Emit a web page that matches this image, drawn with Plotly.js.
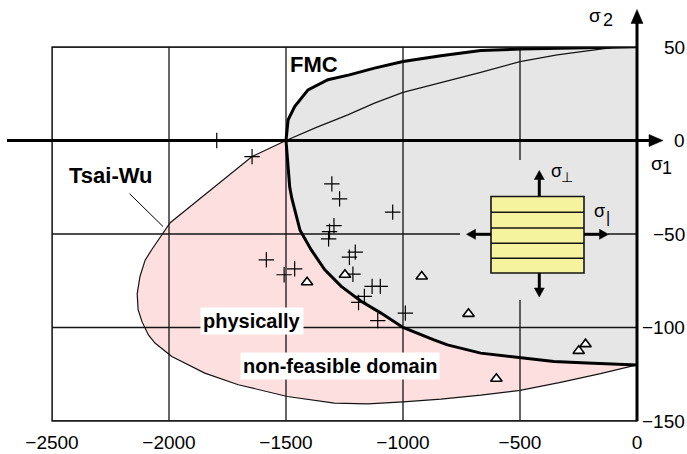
<!DOCTYPE html>
<html>
<head>
<meta charset="utf-8">
<script src="https://cdn.plot.ly/plotly-3.0.1.min.js"></script>
<style>html,body{margin:0;padding:0;background:#fff}#chart{width:687px;height:454px}</style>
</head>
<body>
<div id="chart"></div>
<script>
// ---- data ----
var xTicks = [-2500, -2000, -1500, -1000, -500, 0];
var yTicks = [-150, -100, -50, 0, 50];

// Tsai-Wu failure envelope (closed curve)
var tsaiWuX = [0, -101, -156, -341, -500, -668, -838, -1000, -1122, -1236, -1370, -1500, -1645, -1804, -1995, -2074, -2102, -2124, -2136, -2132, -2115, -2088, -2060, -1988, -1847, -1704, -1494, -1293, -1150, -1000, -838, -668, -500, -327, -156, 0];
var tsaiWuY = [51.5, 49.6, 48.9, 45.8, 42.2, 36.4, 31.0, 25.7, 20.0, 13.7, 7.0, 0, -8.6, -24.6, -44.0, -58.4, -64.0, -72.7, -82.0, -90.5, -97.0, -104.0, -108.3, -115.5, -124.4, -130.6, -136.9, -140.4, -140.8, -139.8, -138.3, -136.2, -133.6, -129.3, -124.7, -120];

// FMC failure envelope
var fmcUpperX = [-1500, -1496, -1491, -1463, -1406, -1321, -1229, -1122, -1000, -838, -668, -497, -270, -101, 0];
var fmcUpperY = [0, 6, 11, 18.2, 27.1, 32.5, 35.1, 38.7, 42.2, 45.3, 48.1, 48.9, 49.4, 49.8, 50.2];
var fmcLowerX = [-1500, -1494, -1490, -1484, -1475, -1463, -1440, -1392, -1335, -1264, -1179, -1094, -1000, -868, -810, -668, -500, -355, -213, 0];
var fmcLowerY = [0, -8, -16, -25, -31, -37, -48, -58.5, -69, -78, -86, -92.3, -100, -106.6, -109.3, -113.7, -116, -118.2, -119, -120];

// test data
var plusX = [-1796, -1645, -1304, -1271, -1044, -1295, -1314, -1318, -1204, -1229, -1584, -1463, -1508, -1214, -1132, -1097, -1165, -1190, -990, -1108];
var plusY = [0, -8.6, -23.2, -31.2, -38.3, -45.5, -48.7, -52.6, -59.7, -62.4, -63.8, -68.6, -71.8, -71.5, -78, -78, -83.4, -86.6, -92.3, -96.3];
var triX = [-1410, -1248, -920, -720, -220, -249, -601];
var triY = [-75.8, -71.8, -72.7, -92.7, -108.9, -112.5, -127.4];

// ---- build ----
var FONT = 'Liberation Sans, Arial, sans-serif';
var pink = '#fddfdf', grey = '#e6e6e6', yellow = '#f5f39d', ink = '#141414';

var fmcX = fmcUpperX.concat(fmcLowerX.slice().reverse());
var fmcY = fmcUpperY.concat(fmcLowerY.slice().reverse());

var gx = [], gy = [];
var xmin = xTicks[0], xmax = xTicks[xTicks.length - 1];
var ymin = yTicks[0], ymax = yTicks[yTicks.length - 1];
xTicks.forEach(function (v) { if (v !== 0) { gx.push(v, v, null); gy.push(ymin, ymax, null); } });
yTicks.forEach(function (v) { if (v !== 0) { gx.push(xmin, xmax, null); gy.push(v, v, null); } });

var traces = [
  {x: tsaiWuX, y: tsaiWuY, mode: 'lines', fill: 'toself', fillcolor: pink, line: {width: 0}, hoverinfo: 'skip'},
  {x: fmcX, y: fmcY, mode: 'lines', fill: 'toself', fillcolor: grey, line: {width: 0}, hoverinfo: 'skip'},
  {x: gx, y: gy, mode: 'lines', line: {color: ink, width: 1.3}, hoverinfo: 'skip'},
  {x: tsaiWuX, y: tsaiWuY, mode: 'lines', line: {color: ink, width: 1.2}},
  {x: fmcUpperX, y: fmcUpperY, mode: 'lines', line: {color: '#000', width: 3}},
  {x: fmcLowerX, y: fmcLowerY, mode: 'lines', line: {color: '#000', width: 3}},
  {x: plusX, y: plusY, mode: 'markers', marker: {symbol: 'cross-thin', size: 11, line: {color: '#000', width: 1.2}}},
  {x: triX, y: triY, mode: 'markers', marker: {symbol: 'triangle-up', size: 10, color: '#fff', line: {color: '#000', width: 1.6}}}
];

// paper helpers (plot area 52..637 x 47..421 px)
function px(p) { return (p - 52) / 585; }
function py(p) { return (421 - p) / 374; }

var shapes = [
  {type: 'rect', xref: 'paper', yref: 'paper', x0: px(460), x1: px(608), y0: py(300), y1: py(160), fillcolor: grey, line: {width: 0}, layer: 'above'},
  {type: 'rect', xref: 'paper', yref: 'paper', x0: 0, x1: 1, y0: 0, y1: 1, line: {color: ink, width: 1.3}, layer: 'above'},
  {type: 'rect', xref: 'paper', yref: 'paper', x0: px(491), x1: px(584), y0: py(273), y1: py(196.5), fillcolor: yellow, line: {color: ink, width: 1.6}, layer: 'above'}
];
[212.3, 228, 243.3, 258.3].forEach(function (p) {
  shapes.push({type: 'line', xref: 'paper', yref: 'paper', x0: px(491), x1: px(584), y0: py(p), y1: py(p), line: {color: ink, width: 1.4}, layer: 'above'});
});

// arrow = shaft line + filled triangular head (pixel geometry converted to paper)
function addArrow(tx0, ty0, tx1, ty1, w, hl, hw) {
  var dx = tx1 - tx0, dy = ty1 - ty0, L = Math.sqrt(dx * dx + dy * dy);
  var ux = dx / L, uy = dy / L, nx = -uy, ny = ux;
  var bx = tx1 - ux * hl, by = ty1 - uy * hl;
  shapes.push({type: 'line', xref: 'paper', yref: 'paper', x0: px(tx0), y0: py(ty0), x1: px(bx + ux), y1: py(by + uy),
               line: {color: '#000', width: w}, layer: 'above'});
  var p1 = [bx + nx * hw / 2, by + ny * hw / 2], p2 = [bx - nx * hw / 2, by - ny * hw / 2];
  var path = 'M' + px(tx1) + ',' + py(ty1) + ' L' + px(p1[0]) + ',' + py(p1[1]) + ' L' + px(p2[0]) + ',' + py(p2[1]) + ' Z';
  shapes.push({type: 'path', xref: 'paper', yref: 'paper', path: path, fillcolor: '#000', line: {color: '#000', width: 0.5}, layer: 'above'});
}
addArrow(7, 140.5, 663, 140.5, 3, 14, 12);
addArrow(637, 421, 637, 9.5, 3, 14, 12);
addArrow(539.3, 196, 539.3, 170.5, 3, 9, 10);
addArrow(539.3, 273, 539.3, 297, 3, 9, 10);
addArrow(491, 234.3, 466.5, 234.3, 3, 9, 10);
addArrow(584, 234.3, 608.5, 234.3, 3, 9, 10);

function label(text, cx, cy, size, bold, extra) {
  var a = {xref: 'paper', yref: 'paper', x: px(cx), y: py(cy), text: bold ? '<b>' + text + '</b>' : text,
           showarrow: false, xanchor: 'center', yanchor: 'middle',
           font: {family: FONT, size: size, color: '#000'}};
  for (var k in extra) a[k] = extra[k];
  return a;
}

var annotations = [
  label('FMC', 314, 65, 22, true),
  label('physically', 251.7, 320.8, 20, true, {bgcolor: '#fff', borderpad: 2}),
  label('non-feasible domain', 340, 366, 20, true, {bgcolor: '#fff', borderpad: 2}),
  // axis symbols: sigma + index
  label('σ', 595, 16, 19, false), label('2', 608, 20, 18, false),
  label('σ', 657, 163, 19, false), label('1', 667, 168, 18, false),
  // inset symbols
  label('σ', 556, 171, 18, false), label('⊥', 566.5, 177, 14, false),
  label('σ', 599, 211, 18, false), label('|', 607.5, 217.5, 16, false),
  {xref: 'paper', yref: 'paper', x: px(163), y: py(226.5), ax: -52, ay: -51, text: '<b>Tsai-Wu</b>',
   showarrow: true, arrowhead: 0, arrowwidth: 1, arrowcolor: '#000', startstandoff: 6,
   font: {family: FONT, size: 22, color: '#000'}}
];
yTicks.forEach(function (v) {
  annotations.push({xref: 'paper', yref: 'y', x: px(687), y: v, xanchor: 'right', yanchor: 'middle',
    text: (v < 0 ? '\u2212' : '') + Math.abs(v), showarrow: false,
    font: {family: FONT, size: 19, color: '#000'}});
});

var layout = {
  width: 687, height: 454,
  margin: {l: 52, r: 50, t: 47, b: 33, pad: 0},
  paper_bgcolor: '#fff', plot_bgcolor: '#fff',
  showlegend: false,
  xaxis: {range: [xmin, xmax], tickvals: xTicks, showgrid: false, zeroline: false, showline: false, ticks: '',
          ticklabelstandoff: 8, tickfont: {family: FONT, size: 19, color: '#000'}, fixedrange: true},
  yaxis: {range: [ymin, ymax], showgrid: false, zeroline: false, showline: false, ticks: '', showticklabels: false, fixedrange: true},
  shapes: shapes,
  annotations: annotations
};

Plotly.newPlot('chart', traces, layout, {displayModeBar: false, staticPlot: true});
</script>
</body>
</html>
